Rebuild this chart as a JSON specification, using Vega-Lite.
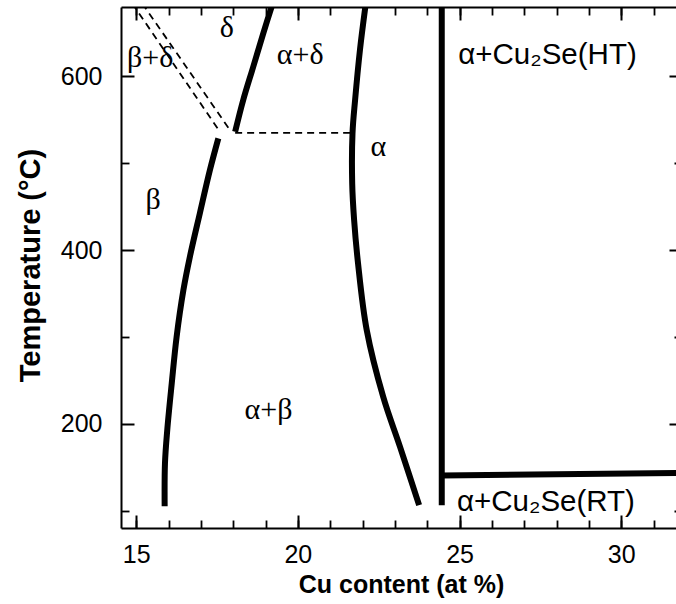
{
  "$schema": "https://vega.github.io/schema/vega-lite/v6.json",
  "width": 561,
  "height": 521,
  "autosize": {"type": "none"},
  "padding": {"left": 121, "top": 7, "right": 0, "bottom": 76},
  "background": "white",
  "config": {
    "view": {"stroke": null},
    "axis": {
      "grid": false,
      "domainColor": "black",
      "tickColor": "black",
      "labelColor": "black",
      "titleColor": "black",
      "labelFont": "Liberation Sans",
      "titleFont": "Liberation Sans",
      "labelFlush": false,
      "labelOverlap": false
    }
  },
  "datasets": {
    "curves": [
      {"curve": "beta solvus", "Cu": 17.54, "T": 528.7},
      {"curve": "beta solvus", "Cu": 17.28, "T": 492.2},
      {"curve": "beta solvus", "Cu": 16.97, "T": 442.7},
      {"curve": "beta solvus", "Cu": 16.66, "T": 392.3},
      {"curve": "beta solvus", "Cu": 16.46, "T": 354.0},
      {"curve": "beta solvus", "Cu": 16.25, "T": 300.2},
      {"curve": "beta solvus", "Cu": 16.10, "T": 246.8},
      {"curve": "beta solvus", "Cu": 15.96, "T": 192.7},
      {"curve": "beta solvus", "Cu": 15.89, "T": 154.7},
      {"curve": "beta solvus", "Cu": 15.88, "T": 105.0},
      {"curve": "delta solvus", "Cu": 18.06, "T": 536.3},
      {"curve": "delta solvus", "Cu": 18.31, "T": 572.9},
      {"curve": "delta solvus", "Cu": 18.62, "T": 611.2},
      {"curve": "delta solvus", "Cu": 18.93, "T": 649.7},
      {"curve": "delta solvus", "Cu": 19.22, "T": 684.0},
      {"curve": "alpha solvus", "Cu": 22.10, "T": 684.0},
      {"curve": "alpha solvus", "Cu": 21.92, "T": 630.5},
      {"curve": "alpha solvus", "Cu": 21.77, "T": 572.9},
      {"curve": "alpha solvus", "Cu": 21.69, "T": 534.8},
      {"curve": "alpha solvus", "Cu": 21.68, "T": 477.2},
      {"curve": "alpha solvus", "Cu": 21.74, "T": 434.6},
      {"curve": "alpha solvus", "Cu": 21.86, "T": 385.1},
      {"curve": "alpha solvus", "Cu": 22.13, "T": 307.9},
      {"curve": "alpha solvus", "Cu": 22.64, "T": 231.0},
      {"curve": "alpha solvus", "Cu": 23.16, "T": 173.4},
      {"curve": "alpha solvus", "Cu": 23.75, "T": 106.3},
      {"curve": "Cu2Se solvus", "Cu": 24.45, "T": 106.3},
      {"curve": "Cu2Se solvus", "Cu": 24.45, "T": 684.0},
      {"curve": "Cu2Se RT-HT", "Cu": 24.45, "T": 140.5},
      {"curve": "Cu2Se RT-HT", "Cu": 32.5, "T": 143.5},
      {"curve": "isotherm", "Cu": 18.06, "T": 535.0},
      {"curve": "isotherm", "Cu": 21.69, "T": 535.0},
      {"curve": "beta+delta A", "Cu": 14.88, "T": 684.0},
      {"curve": "beta+delta A", "Cu": 17.59, "T": 536.3},
      {"curve": "beta+delta B", "Cu": 15.19, "T": 684.0},
      {"curve": "beta+delta B", "Cu": 17.90, "T": 538.3}
    ],
    "greek": [
      {"label": "δ", "Cu": 17.80, "T": 655.5},
      {"label": "β+δ", "Cu": 15.43, "T": 621.2},
      {"label": "α+δ", "Cu": 20.07, "T": 624.7},
      {"label": "α", "Cu": 22.49, "T": 519.0},
      {"label": "β", "Cu": 15.52, "T": 457.6},
      {"label": "α+β", "Cu": 19.09, "T": 215.7}
    ],
    "phases": [
      {"label": "α+Cu₂Se(HT)", "Cu": 24.96, "T": 624.7},
      {"label": "α+Cu₂Se(RT)", "Cu": 24.92, "T": 110.1}
    ]
  },
  "resolve": {"axis": {"x": "independent", "y": "independent"}},
  "layer": [
    {
      "data": {"name": "curves"},
      "transform": [{"filter": {"field": "curve", "oneOf": ["beta solvus", "delta solvus", "alpha solvus", "Cu2Se solvus", "Cu2Se RT-HT"]}}],
      "mark": {"type": "line", "color": "black", "strokeWidth": 6, "interpolate": "catmull-rom", "clip": true},
      "encoding": {
        "x": {
          "field": "Cu", "type": "quantitative",
          "scale": {"domain": [14.53, 31.88], "nice": false, "zero": false},
          "axis": {
            "orient": "bottom", "values": [15, 20, 25, 30], "tickSize": -13, "tickWidth": 2,
            "labelPadding": 27, "labelFontSize": 25, "labelDx": -6, "domainWidth": 2,
            "title": "Cu content (at %)", "titleFontSize": 25, "titleFontWeight": "bold",
            "titleX": 280, "titleY": 56, "titleBaseline": "middle", "titleAlign": "center"
          }
        },
        "y": {
          "field": "T", "type": "quantitative",
          "scale": {"domain": [80, 680], "nice": false, "zero": false},
          "axis": {
            "orient": "left", "values": [200, 400, 600], "tickSize": -13, "tickWidth": 2,
            "labelPadding": 32, "labelFontSize": 25, "domainWidth": 2,
            "title": "Temperature (°C)", "titleFontSize": 29, "titleFontWeight": "bold",
            "titleX": -91, "titleY": 258, "titleAngle": -90, "titleBaseline": "middle", "titleAlign": "center"
          }
        },
        "detail": {"field": "curve"},
        "order": {"field": "T", "type": "quantitative"}
      }
    },
    {
      "data": {"name": "curves"},
      "transform": [{"filter": {"field": "curve", "oneOf": ["isotherm", "beta+delta A", "beta+delta B"]}}],
      "mark": {"type": "line", "color": "black", "strokeWidth": 1.8, "strokeDash": [7, 5], "clip": true},
      "encoding": {
        "x": {
          "field": "Cu", "type": "quantitative",
          "axis": {"orient": "bottom", "values": [15, 16, 17, 18, 19, 20, 21, 22, 23, 24, 25, 26, 27, 28, 29, 30, 31], "tickSize": -8, "tickWidth": 1.8, "labels": false, "domain": false, "title": null}
        },
        "y": {
          "field": "T", "type": "quantitative",
          "axis": {"orient": "left", "values": [100, 300, 500], "tickSize": -8, "tickWidth": 1.8, "labels": false, "domain": false, "title": null}
        },
        "detail": {"field": "curve"},
        "order": {"field": "Cu", "type": "quantitative"}
      }
    },
    {
      "data": {"name": "greek"},
      "mark": {"type": "text", "font": "Liberation Serif", "fontSize": 30, "align": "center", "baseline": "middle", "color": "black"},
      "encoding": {
        "x": {
          "field": "Cu", "type": "quantitative",
          "axis": {"orient": "top", "values": [15, 20, 25, 30], "tickSize": -13, "tickWidth": 2, "labels": false, "domainWidth": 2, "title": null}
        },
        "y": {
          "field": "T", "type": "quantitative",
          "axis": {"orient": "right", "values": [200, 400, 600], "tickSize": -13, "tickWidth": 2, "labels": false, "domainWidth": 2, "title": null}
        },
        "text": {"field": "label"}
      }
    },
    {
      "data": {"name": "phases"},
      "mark": {"type": "text", "font": "Liberation Sans", "fontSize": 29.5, "align": "left", "baseline": "middle", "color": "black"},
      "encoding": {
        "x": {
          "field": "Cu", "type": "quantitative",
          "axis": {"orient": "top", "values": [15, 16, 17, 18, 19, 20, 21, 22, 23, 24, 25, 26, 27, 28, 29, 30, 31], "tickSize": -8, "tickWidth": 1.8, "labels": false, "domain": false, "title": null}
        },
        "y": {
          "field": "T", "type": "quantitative",
          "axis": {"orient": "right", "values": [100, 300, 500], "tickSize": -8, "tickWidth": 1.8, "labels": false, "domain": false, "title": null}
        },
        "text": {"field": "label"}
      }
    }
  ]
}
